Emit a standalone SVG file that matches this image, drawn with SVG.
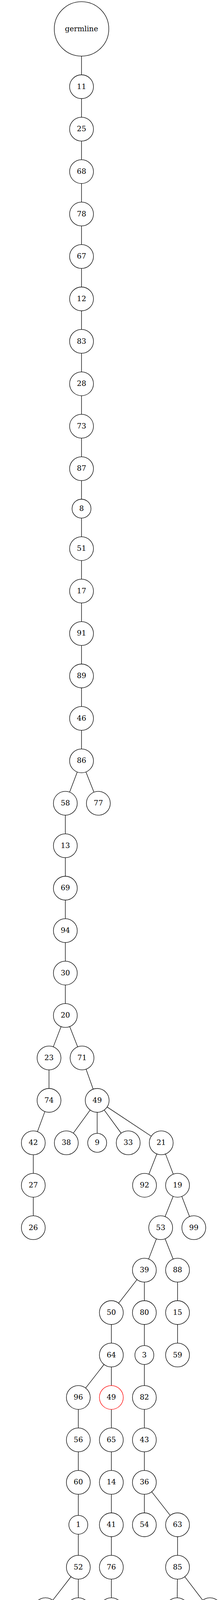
<svg xmlns="http://www.w3.org/2000/svg" width="570" height="5247" viewBox="0 0 570 5247">
<style>
.n circle{fill:none;stroke:#000;stroke-width:1.33}
.n text{font-family:"DejaVu Serif","Liberation Serif",serif;font-size:18.67px;text-anchor:middle;fill:#000}
#edges path{fill:none;stroke:#000;stroke-width:1.33}
</style>
<rect width="570" height="5247" fill="#fff"/>
<g id="edges">
<path d="M208.4 143.7V191.5M208.4 252.5V300.15M208.4 361.15V408.8M208.4 469.8V517.45M208.4 578.45V626.1M208.4 687.1V734.75M208.4 795.75V843.4M208.4 904.4V952.05M208.4 1013.05V1060.7M208.4 1121.7V1169.35M208.4 1230.35V1278M208.4 1326.4V1374.05M208.4 1435.05V1482.7M208.4 1543.7V1591.35M208.4 1652.35V1700M208.4 1761V1808.65M208.4 1869.65V1917.3"/>
<path d="M197.54 1976.3L177.86 2027.95"/>
<path d="M219.62 1976.16L240.18 2028.09"/>
<path d="M167 2086.95V2134.6M167 2195.6V2243.25M167 2304.25V2351.9M167 2412.9V2460.55M167 2521.55V2569.2"/>
<path d="M156.07 2628.17L136.23 2679.88"/>
<path d="M178.16 2628.09L198.54 2679.96"/>
<path d="M125.3 2738.85V2786.5"/>
<path d="M219.93 2737.08L238.17 2788.27"/>
<path d="M114.72 2845.61L95.68 2897.04"/>
<path d="M230.48 2841.68L187.42 2900.97"/>
<path d="M248.4 2847.5V2901.45"/>
<path d="M266.38 2841.64L309.72 2901.01"/>
<path d="M273.81 2833.87L386.69 2908.78"/>
<path d="M85.1 2956.15V3003.8M85.1 3064.8V3112.45"/>
<path d="M400.94 2954.04L380.56 3005.91"/>
<path d="M423.03 2954.12L442.87 3005.83"/>
<path d="M442.55 3062.65L421.95 3114.6"/>
<path d="M464.71 3062.78L484.49 3114.47"/>
<path d="M399.77 3171.42L379.93 3223.13"/>
<path d="M421.95 3171.3L442.55 3223.25"/>
<path d="M350.29 3275.69L303.31 3336.16"/>
<path d="M369 3282.1V3329.75"/>
<path d="M453.8 3282.1V3329.75M453.8 3390.75V3438.4"/>
<path d="M284.6 3390.75V3438.4"/>
<path d="M369 3390.75V3444.7"/>
<path d="M265.89 3492.99L218.91 3553.46"/>
<path d="M284.6 3499.4V3547.05"/>
<path d="M369 3493.1V3547.05M369 3608.05V3655.7M369 3716.7V3764.35M369 3825.35V3873"/>
<path d="M200.2 3608.05V3655.7M200.2 3716.7V3764.35M200.2 3825.35V3879.3M200.2 3927.7V3981.65"/>
<path d="M284.6 3608.05V3655.7M284.6 3716.7V3764.35M284.6 3825.35V3873M284.6 3934V3981.65M284.6 4042.65V4090.3M284.6 4151.3V4206.85M284.6 4267.85V4323.4M284.6 4384.4V4432.05M284.6 4493.05V4540.7M284.6 4601.7V4649.35"/>
<path d="M387.77 3818.89L435.03 3879.46"/>
<path d="M453.8 3934V3981.65"/>
<path d="M453.49 4042.65L453.01 4090.3"/>
<path d="M472.3 4036.4L518.2 4096.55"/>
<path d="M181.54 4036.28L134.86 4096.67"/>
<path d="M200.2 4042.65V4090.3"/>
<path d="M103.71 4148.63L76.39 4209.52"/>
<path d="M126.1 4149.65L143.74 4201.03"/>
<path d="M63.9 4267.85V4323.4"/>
<path d="M156.2 4275.75V4323.4"/>
<path d="M146.87 4382.94L130.63 4433.51"/>
<path d="M167.65 4382.17L191.12 4440.12"/>
<path d="M109.72 4490.77L88.28 4542.98"/>
<path d="M131.88 4491.16L150.92 4542.59"/>
<path d="M76.7 4601.7V4649.35M76.7 4710.35V4758M76.7 4819V4866.65M76.7 4927.65V4975.3"/>
<path d="M67.64 5021.94L46.81 5073.57"/>
<path d="M86.17 5021.77L108.27 5073.78"/>
<path d="M35.4 5132.35V5180"/>
<path d="M435.48 4145.97L390.22 4212.18"/>
<path d="M453.93 4151.28L456.17 4206.87"/>
<path d="M536.7 4151.3V4213.15M536.7 4261.55V4329.7"/>
<path d="M372.98 4267.85L372.32 4323.4"/>
<path d="M390.79 4262.12L438.91 4329.13"/>
<path d="M372.3 4384.4V4432.05"/>
<path d="M391.01 4377.99L437.99 4438.46"/>
<path d="M456.5 4493.05V4540.7M456.5 4601.7V4649.35"/>
<path d="M445.21 4708.18L424.49 4760.17"/>
<path d="M467.29 4708.38L486.81 4759.97"/>
<path d="M497.6 4819V4872.95"/>
</g>
<g id="n-germline" class="n"><circle cx="208.4" cy="74" r="69.7"/><text x="208.4" y="79.6">germline</text></g>
<g id="n11" class="n"><circle cx="208.4" cy="222" r="30.5"/><text x="208.4" y="227.6">11</text></g>
<g id="n25" class="n"><circle cx="208.4" cy="330.65" r="30.5"/><text x="208.4" y="336.25">25</text></g>
<g id="n68" class="n"><circle cx="208.4" cy="439.3" r="30.5"/><text x="208.4" y="444.9">68</text></g>
<g id="n78" class="n"><circle cx="208.4" cy="547.95" r="30.5"/><text x="208.4" y="553.55">78</text></g>
<g id="n67" class="n"><circle cx="208.4" cy="656.6" r="30.5"/><text x="208.4" y="662.2">67</text></g>
<g id="n12" class="n"><circle cx="208.4" cy="765.25" r="30.5"/><text x="208.4" y="770.85">12</text></g>
<g id="n83" class="n"><circle cx="208.4" cy="873.9" r="30.5"/><text x="208.4" y="879.5">83</text></g>
<g id="n28" class="n"><circle cx="208.4" cy="982.55" r="30.5"/><text x="208.4" y="988.15">28</text></g>
<g id="n73" class="n"><circle cx="208.4" cy="1091.2" r="30.5"/><text x="208.4" y="1096.8">73</text></g>
<g id="n87" class="n"><circle cx="208.4" cy="1199.85" r="30.5"/><text x="208.4" y="1205.45">87</text></g>
<g id="n8" class="n"><circle cx="208.4" cy="1302.2" r="24.2"/><text x="208.4" y="1307.8">8</text></g>
<g id="n51" class="n"><circle cx="208.4" cy="1404.55" r="30.5"/><text x="208.4" y="1410.15">51</text></g>
<g id="n17" class="n"><circle cx="208.4" cy="1513.2" r="30.5"/><text x="208.4" y="1518.8">17</text></g>
<g id="n91" class="n"><circle cx="208.4" cy="1621.85" r="30.5"/><text x="208.4" y="1627.45">91</text></g>
<g id="n89" class="n"><circle cx="208.4" cy="1730.5" r="30.5"/><text x="208.4" y="1736.1">89</text></g>
<g id="n46" class="n"><circle cx="208.4" cy="1839.15" r="30.5"/><text x="208.4" y="1844.75">46</text></g>
<g id="n86" class="n"><circle cx="208.4" cy="1947.8" r="30.5"/><text x="208.4" y="1953.4">86</text></g>
<g id="n58" class="n"><circle cx="167" cy="2056.45" r="30.5"/><text x="167" y="2062.05">58</text></g>
<g id="n77" class="n"><circle cx="251.4" cy="2056.45" r="30.5"/><text x="251.4" y="2062.05">77</text></g>
<g id="n13" class="n"><circle cx="167" cy="2165.1" r="30.5"/><text x="167" y="2170.7">13</text></g>
<g id="n69" class="n"><circle cx="167" cy="2273.75" r="30.5"/><text x="167" y="2279.35">69</text></g>
<g id="n94" class="n"><circle cx="167" cy="2382.4" r="30.5"/><text x="167" y="2388">94</text></g>
<g id="n30" class="n"><circle cx="167" cy="2491.05" r="30.5"/><text x="167" y="2496.65">30</text></g>
<g id="n20" class="n"><circle cx="167" cy="2599.7" r="30.5"/><text x="167" y="2605.3">20</text></g>
<g id="n23" class="n"><circle cx="125.3" cy="2708.35" r="30.5"/><text x="125.3" y="2713.95">23</text></g>
<g id="n71" class="n"><circle cx="209.7" cy="2708.35" r="30.5"/><text x="209.7" y="2713.95">71</text></g>
<g id="n74" class="n"><circle cx="125.3" cy="2817" r="30.5"/><text x="125.3" y="2822.6">74</text></g>
<g id="n49" class="n"><circle cx="248.4" cy="2817" r="30.5"/><text x="248.4" y="2822.6">49</text></g>
<g id="n42" class="n"><circle cx="85.1" cy="2925.65" r="30.5"/><text x="85.1" y="2931.25">42</text></g>
<g id="n38" class="n"><circle cx="169.5" cy="2925.65" r="30.5"/><text x="169.5" y="2931.25">38</text></g>
<g id="n9" class="n"><circle cx="248.4" cy="2925.65" r="24.2"/><text x="248.4" y="2931.25">9</text></g>
<g id="n33" class="n"><circle cx="327.7" cy="2925.65" r="30.5"/><text x="327.7" y="2931.25">33</text></g>
<g id="n21" class="n"><circle cx="412.1" cy="2925.65" r="30.5"/><text x="412.1" y="2931.25">21</text></g>
<g id="n27" class="n"><circle cx="85.1" cy="3034.3" r="30.5"/><text x="85.1" y="3039.9">27</text></g>
<g id="n92" class="n"><circle cx="369.4" cy="3034.3" r="30.5"/><text x="369.4" y="3039.9">92</text></g>
<g id="n19" class="n"><circle cx="453.8" cy="3034.3" r="30.5"/><text x="453.8" y="3039.9">19</text></g>
<g id="n26" class="n"><circle cx="85.1" cy="3142.95" r="30.5"/><text x="85.1" y="3148.55">26</text></g>
<g id="n53" class="n"><circle cx="410.7" cy="3142.95" r="30.5"/><text x="410.7" y="3148.55">53</text></g>
<g id="n99" class="n"><circle cx="495.4" cy="3142.95" r="30.5"/><text x="495.4" y="3148.55">99</text></g>
<g id="n39" class="n"><circle cx="369" cy="3251.6" r="30.5"/><text x="369" y="3257.2">39</text></g>
<g id="n88" class="n"><circle cx="453.8" cy="3251.6" r="30.5"/><text x="453.8" y="3257.2">88</text></g>
<g id="n50" class="n"><circle cx="284.6" cy="3360.25" r="30.5"/><text x="284.6" y="3365.85">50</text></g>
<g id="n80" class="n"><circle cx="369" cy="3360.25" r="30.5"/><text x="369" y="3365.85">80</text></g>
<g id="n15" class="n"><circle cx="453.8" cy="3360.25" r="30.5"/><text x="453.8" y="3365.85">15</text></g>
<g id="n64" class="n"><circle cx="284.6" cy="3468.9" r="30.5"/><text x="284.6" y="3474.5">64</text></g>
<g id="n3" class="n"><circle cx="369" cy="3468.9" r="24.2"/><text x="369" y="3474.5">3</text></g>
<g id="n59" class="n"><circle cx="453.8" cy="3468.9" r="30.5"/><text x="453.8" y="3474.5">59</text></g>
<g id="n96" class="n"><circle cx="200.2" cy="3577.55" r="30.5"/><text x="200.2" y="3583.15">96</text></g>
<g id="n49b" class="n"><circle cx="284.6" cy="3577.55" r="30.5" style="stroke:#f00"/><text x="284.6" y="3583.15">49</text></g>
<g id="n82" class="n"><circle cx="369" cy="3577.55" r="30.5"/><text x="369" y="3583.15">82</text></g>
<g id="n56" class="n"><circle cx="200.2" cy="3686.2" r="30.5"/><text x="200.2" y="3691.8">56</text></g>
<g id="n65" class="n"><circle cx="284.6" cy="3686.2" r="30.5"/><text x="284.6" y="3691.8">65</text></g>
<g id="n43" class="n"><circle cx="369" cy="3686.2" r="30.5"/><text x="369" y="3691.8">43</text></g>
<g id="n60" class="n"><circle cx="200.2" cy="3794.85" r="30.5"/><text x="200.2" y="3800.45">60</text></g>
<g id="n14" class="n"><circle cx="284.6" cy="3794.85" r="30.5"/><text x="284.6" y="3800.45">14</text></g>
<g id="n36" class="n"><circle cx="369" cy="3794.85" r="30.5"/><text x="369" y="3800.45">36</text></g>
<g id="n1" class="n"><circle cx="200.2" cy="3903.5" r="24.2"/><text x="200.2" y="3909.1">1</text></g>
<g id="n41" class="n"><circle cx="284.6" cy="3903.5" r="30.5"/><text x="284.6" y="3909.1">41</text></g>
<g id="n54" class="n"><circle cx="369" cy="3903.5" r="30.5"/><text x="369" y="3909.1">54</text></g>
<g id="n63" class="n"><circle cx="453.8" cy="3903.5" r="30.5"/><text x="453.8" y="3909.1">63</text></g>
<g id="n52" class="n"><circle cx="200.2" cy="4012.15" r="30.5"/><text x="200.2" y="4017.75">52</text></g>
<g id="n76" class="n"><circle cx="284.6" cy="4012.15" r="30.5"/><text x="284.6" y="4017.75">76</text></g>
<g id="n85" class="n"><circle cx="453.8" cy="4012.15" r="30.5"/><text x="453.8" y="4017.75">85</text></g>
<g id="n61" class="n"><circle cx="116.2" cy="4120.8" r="30.5"/><text x="116.2" y="4126.4">61</text></g>
<g id="n95" class="n"><circle cx="200.2" cy="4120.8" r="30.5"/><text x="200.2" y="4126.4">95</text></g>
<g id="n70" class="n"><circle cx="284.6" cy="4120.8" r="30.5"/><text x="284.6" y="4126.4">70</text></g>
<g id="n40" class="n"><circle cx="452.7" cy="4120.8" r="30.5"/><text x="452.7" y="4126.4">40</text></g>
<g id="n48" class="n"><circle cx="536.7" cy="4120.8" r="30.5"/><text x="536.7" y="4126.4">48</text></g>
<g id="n10" class="n"><circle cx="63.9" cy="4237.35" r="30.5"/><text x="63.9" y="4242.95">10</text></g>
<g id="n100" class="n"><circle cx="156.2" cy="4237.35" r="38.4"/><text x="156.2" y="4242.95">100</text></g>
<g id="n90" class="n"><circle cx="284.6" cy="4237.35" r="30.5"/><text x="284.6" y="4242.95">90</text></g>
<g id="n18" class="n"><circle cx="373" cy="4237.35" r="30.5"/><text x="373" y="4242.95">18</text></g>
<g id="n93" class="n"><circle cx="457.4" cy="4237.35" r="30.5"/><text x="457.4" y="4242.95">93</text></g>
<g id="n7" class="n"><circle cx="536.7" cy="4237.35" r="24.2"/><text x="536.7" y="4242.95">7</text></g>
<g id="n22" class="n"><circle cx="63.9" cy="4353.9" r="30.5"/><text x="63.9" y="4359.5">22</text></g>
<g id="n97" class="n"><circle cx="156.2" cy="4353.9" r="30.5"/><text x="156.2" y="4359.5">97</text></g>
<g id="n37" class="n"><circle cx="284.6" cy="4353.9" r="30.5"/><text x="284.6" y="4359.5">37</text></g>
<g id="n62" class="n"><circle cx="372.3" cy="4353.9" r="30.5"/><text x="372.3" y="4359.5">62</text></g>
<g id="n55" class="n"><circle cx="456.7" cy="4353.9" r="30.5"/><text x="456.7" y="4359.5">55</text></g>
<g id="n6" class="n"><circle cx="536.7" cy="4353.9" r="24.2"/><text x="536.7" y="4359.5">6</text></g>
<g id="n45" class="n"><circle cx="121.3" cy="4462.55" r="30.5"/><text x="121.3" y="4468.15">45</text></g>
<g id="n4" class="n"><circle cx="200.2" cy="4462.55" r="24.2"/><text x="200.2" y="4468.15">4</text></g>
<g id="n72" class="n"><circle cx="284.6" cy="4462.55" r="30.5"/><text x="284.6" y="4468.15">72</text></g>
<g id="n81" class="n"><circle cx="372.3" cy="4462.55" r="30.5"/><text x="372.3" y="4468.15">81</text></g>
<g id="n75" class="n"><circle cx="456.7" cy="4462.55" r="30.5"/><text x="456.7" y="4468.15">75</text></g>
<g id="n84" class="n"><circle cx="76.7" cy="4571.2" r="30.5"/><text x="76.7" y="4576.8">84</text></g>
<g id="n16" class="n"><circle cx="161.5" cy="4571.2" r="30.5"/><text x="161.5" y="4576.8">16</text></g>
<g id="n32" class="n"><circle cx="284.6" cy="4571.2" r="30.5"/><text x="284.6" y="4576.8">32</text></g>
<g id="n35" class="n"><circle cx="456.5" cy="4571.2" r="30.5"/><text x="456.5" y="4576.8">35</text></g>
<g id="n66" class="n"><circle cx="76.7" cy="4679.85" r="30.5"/><text x="76.7" y="4685.45">66</text></g>
<g id="n24" class="n"><circle cx="284.6" cy="4679.85" r="30.5"/><text x="284.6" y="4685.45">24</text></g>
<g id="n31" class="n"><circle cx="456.5" cy="4679.85" r="30.5"/><text x="456.5" y="4685.45">31</text></g>
<g id="n57" class="n"><circle cx="76.7" cy="4788.5" r="30.5"/><text x="76.7" y="4794.1">57</text></g>
<g id="n98" class="n"><circle cx="413.2" cy="4788.5" r="30.5"/><text x="413.2" y="4794.1">98</text></g>
<g id="n29" class="n"><circle cx="497.6" cy="4788.5" r="30.5"/><text x="497.6" y="4794.1">29</text></g>
<g id="n44" class="n"><circle cx="76.7" cy="4897.15" r="30.5"/><text x="76.7" y="4902.75">44</text></g>
<g id="n5" class="n"><circle cx="497.6" cy="4897.15" r="24.2"/><text x="497.6" y="4902.75">5</text></g>
<g id="n2" class="n"><circle cx="76.7" cy="4999.5" r="24.2"/><text x="76.7" y="5005.1">2</text></g>
<g id="n79" class="n"><circle cx="35.4" cy="5101.85" r="30.5"/><text x="35.4" y="5107.45">79</text></g>
<g id="n47" class="n"><circle cx="120.2" cy="5101.85" r="30.5"/><text x="120.2" y="5107.45">47</text></g>
<g id="n34" class="n"><circle cx="35.4" cy="5210.5" r="30.5"/><text x="35.4" y="5216.1">34</text></g>
</svg>
